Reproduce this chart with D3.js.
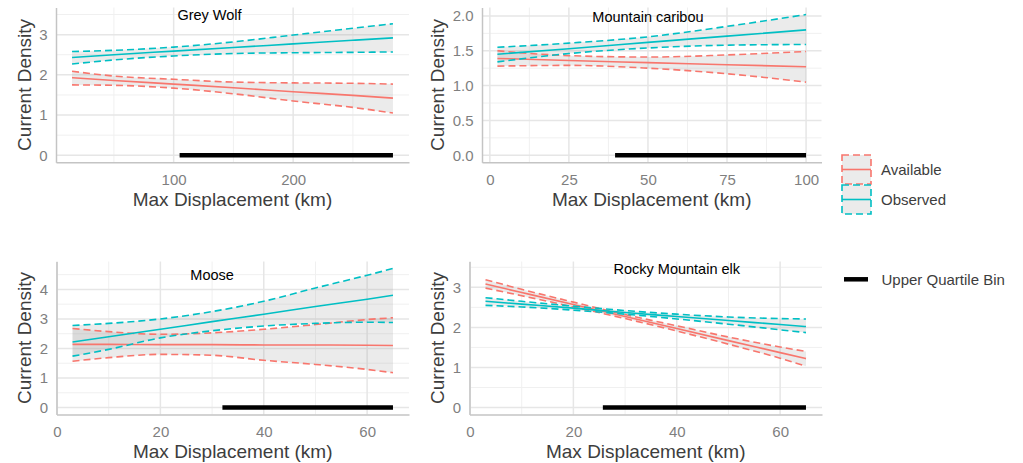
<!DOCTYPE html>
<html>
<head>
<meta charset="utf-8">
<script src="https://cdn.jsdelivr.net/npm/d3@7"></script>
<style>
  body { margin: 0; background: #fff; }
  text { font-family: "Liberation Sans", Arial, sans-serif; }
</style>
</head>
<body>
<div id="chart"></div>
<script>
const species = ["Grey Wolf", "Mountain caribou", "Moose", "Rocky Mountain elk"];

// points along max displacement (km), one row per species
const displacement = [
  [15, 50, 100, 150, 200, 250, 283.5],
  [2.4, 25, 50, 75, 100],
  [3, 10, 20, 30, 40, 50, 60, 65],
  [3, 10, 20, 30, 40, 50, 60, 65]
];

// Available fit + interval
const availMid = [
  [1.93, 1.86, 1.77, 1.68, 1.58, 1.49, 1.42],
  [1.39, 1.36, 1.33, 1.30, 1.27],
  [2.14, 2.14, 2.13, 2.13, 2.12, 2.12, 2.11, 2.10],
  [3.08, 2.87, 2.57, 2.27, 1.97, 1.67, 1.37, 1.22]
];
const availHi = [
  [2.09, 1.97, 1.89, 1.82, 1.80, 1.79, 1.77],
  [1.50, 1.43, 1.41, 1.44, 1.49],
  [2.68, 2.57, 2.48, 2.53, 2.65, 2.81, 2.98, 3.04],
  [3.19, 2.95, 2.63, 2.32, 2.04, 1.76, 1.51, 1.40]
];
const availLo = [
  [1.75, 1.74, 1.67, 1.53, 1.35, 1.19, 1.05],
  [1.28, 1.29, 1.25, 1.17, 1.05],
  [1.57, 1.69, 1.80, 1.77, 1.60, 1.46, 1.29, 1.18],
  [2.98, 2.79, 2.51, 2.22, 1.91, 1.58, 1.23, 1.03]
];

// Observed fit + interval
const obsMid = [
  [2.43, 2.50, 2.59, 2.68, 2.77, 2.86, 2.92],
  [1.45, 1.53, 1.62, 1.71, 1.80],
  [2.22, 2.40, 2.65, 2.91, 3.16, 3.42, 3.67, 3.80],
  [2.65, 2.58, 2.48, 2.37, 2.27, 2.17, 2.07, 2.02]
];
const obsHi = [
  [2.58, 2.61, 2.69, 2.82, 2.99, 3.16, 3.27],
  [1.55, 1.61, 1.70, 1.85, 2.02],
  [2.78, 2.85, 3.00, 3.25, 3.60, 4.05, 4.48, 4.71],
  [2.74, 2.65, 2.53, 2.42, 2.33, 2.26, 2.22, 2.21]
];
const obsLo = [
  [2.27, 2.37, 2.47, 2.53, 2.55, 2.56, 2.57],
  [1.34, 1.46, 1.54, 1.58, 1.59],
  [1.74, 1.97, 2.36, 2.60, 2.76, 2.85, 2.89, 2.88],
  [2.55, 2.51, 2.43, 2.33, 2.21, 2.08, 1.94, 1.87]
];

// upper quartile bin (drawn at density 0)
const uqStart = [105, 39.6, 32, 25.7];
const uqEnd = [283.5, 100, 65, 65];

// species label position (data units)
const titleX = [130, 50, 30, 40];
const titleY = [3.5, 1.98, 4.5, 3.47];

const xTickStep = [100, 25, 20, 20];
const yTickStep = [1, 0.5, 1, 1];
const yTickFormat = ["d", ".1f", "d", "d"];

const groups = ["Available", "Observed"];
const groupColors = ["#F8766D", "#00BFC4"];

// plot areas
const panels = [
  {left: 56, right: 409, top: 7.5, bottom: 162.3, col: 0},
  {left: 482, right: 821.5, top: 7.5, bottom: 162.3, col: 413},
  {left: 56.5, right: 409, top: 261.5, bottom: 414.5, col: 0},
  {left: 469.5, right: 822, top: 261.5, bottom: 414.5, col: 413}
];

let svg = d3.select("#chart").append("svg")
    .attr("width", 1023)
    .attr("height", 463)
    .style("background", "#fff");

function expand(lo, hi) {
    let pad = (hi - lo) * 0.05;
    return [lo - pad, hi + pad];
}

function breaks(domain, step) {
    let out = [];
    for (let v = Math.ceil(domain[0] / step) * step; v <= domain[1] + 1e-9; v += step) out.push(+v.toFixed(6));
    return out;
}

species.forEach(function (name, i) {
    let p = panels[i];
    let xs = displacement[i];

    let x = d3.scaleLinear()
        .domain(expand(d3.min(xs), d3.max(xs)))
        .range([p.left, p.right]);

    let yMax = d3.max([d3.max(availHi[i]), d3.max(obsHi[i]), titleY[i]]);
    let y = d3.scaleLinear()
        .domain(expand(0, yMax))
        .range([p.bottom, p.top]);

    let g = svg.append("g").attr("class", "panel");

    // grid
    let xMajor = breaks(x.domain(), xTickStep[i]);
    let yMajor = breaks(y.domain(), yTickStep[i]);
    let xMinor = breaks(x.domain(), xTickStep[i] / 2).filter(v => !xMajor.includes(v));
    let yMinor = breaks(y.domain(), yTickStep[i] / 2).filter(v => !yMajor.includes(v));

    let grid = g.append("g");
    grid.selectAll("line.xminor").data(xMinor).enter().append("line")
        .attr("x1", d => x(d)).attr("x2", d => x(d))
        .attr("y1", p.top).attr("y2", p.bottom)
        .attr("stroke", "#f0f0f0").attr("stroke-width", 1);
    grid.selectAll("line.yminor").data(yMinor).enter().append("line")
        .attr("x1", p.left).attr("x2", p.right)
        .attr("y1", d => y(d)).attr("y2", d => y(d))
        .attr("stroke", "#f0f0f0").attr("stroke-width", 1);
    grid.selectAll("line.xmajor").data(xMajor).enter().append("line")
        .attr("x1", d => x(d)).attr("x2", d => x(d))
        .attr("y1", p.top).attr("y2", p.bottom)
        .attr("stroke", "#e6e6e6").attr("stroke-width", 1.5);
    grid.selectAll("line.ymajor").data(yMajor).enter().append("line")
        .attr("x1", p.left).attr("x2", p.right)
        .attr("y1", d => y(d)).attr("y2", d => y(d))
        .attr("stroke", "#e6e6e6").attr("stroke-width", 1.5);

    // axes
    let xAxis = g.append("g")
        .attr("transform", "translate(0," + p.bottom + ")")
        .call(d3.axisBottom(x).tickValues(xMajor).tickSize(0).tickSizeOuter(0).tickPadding(12));
    let yAxis = g.append("g")
        .attr("transform", "translate(" + p.left + ",0)")
        .call(d3.axisLeft(y).tickValues(yMajor).tickFormat(d3.format(yTickFormat[i])).tickSize(0).tickSizeOuter(0).tickPadding(8.5));
    [xAxis, yAxis].forEach(function (a) {
        a.select(".domain").attr("stroke", "#c4c4c4").attr("stroke-width", 1.5);
        a.selectAll("text").attr("fill", "#7f7f7f").style("font-size", "15px")
            .style("font-family", "'Liberation Sans', Arial, sans-serif");
    });

    // ribbons
    let rows = [
        xs.map((d, k) => ({x: d, mid: availMid[i][k], lo: availLo[i][k], hi: availHi[i][k]})),
        xs.map((d, k) => ({x: d, mid: obsMid[i][k], lo: obsLo[i][k], hi: obsHi[i][k]}))
    ];
    let area = d3.area()
        .x(d => x(d.x)).y0(d => y(d.lo)).y1(d => y(d.hi))
        .curve(d3.curveMonotoneX);
    rows.forEach(function (r) {
        g.append("path").attr("d", area(r))
            .attr("fill", "#999999").attr("fill-opacity", 0.2);
    });

    // lines
    rows.forEach(function (r, k) {
        ["hi", "lo", "mid"].forEach(function (key) {
            let line = d3.line().x(d => x(d.x)).y(d => y(d[key])).curve(d3.curveMonotoneX);
            g.append("path").attr("d", line(r))
                .attr("fill", "none")
                .attr("stroke", groupColors[k])
                .attr("stroke-width", 1.6)
                .attr("stroke-dasharray", key === "mid" ? null : "7,4");
        });
    });

    // upper quartile bin
    g.append("line")
        .attr("x1", x(uqStart[i])).attr("x2", x(uqEnd[i]))
        .attr("y1", y(0)).attr("y2", y(0))
        .attr("stroke", "#000").attr("stroke-width", 4.5);

    // species label
    g.append("text")
        .attr("x", x(titleX[i])).attr("y", y(titleY[i]))
        .attr("dy", "0.35em")
        .attr("text-anchor", "middle")
        .style("font-size", "14.5px")
        .attr("fill", "#000")
        .text(name);

    // axis titles
    g.append("text")
        .attr("x", (p.left + p.right) / 2).attr("y", p.bottom + 37)
        .attr("dy", "0.35em")
        .attr("text-anchor", "middle")
        .style("font-size", "19px")
        .attr("fill", "#3d3d3d")
        .text("Max Displacement (km)");
    g.append("text")
        .attr("transform", "translate(" + (p.col + 24) + "," + ((p.top + p.bottom) / 2) + ") rotate(-90)")
        .attr("dy", "0.35em")
        .attr("text-anchor", "middle")
        .style("font-size", "19px")
        .attr("fill", "#3d3d3d")
        .text("Current Density");
});

// legend
let legend = svg.append("g").attr("class", "legend");
let keyW = 29, keyH = 29, keyX = 842, keyY = 155;

groups.forEach(function (label, k) {
    let ky = keyY + k * (keyH + 1);
    legend.append("rect")
        .attr("x", keyX).attr("y", ky)
        .attr("width", keyW).attr("height", keyH)
        .attr("fill", "#999999").attr("fill-opacity", 0.2)
        .attr("stroke", groupColors[k])
        .attr("stroke-width", 1.6)
        .attr("stroke-dasharray", "7,4");
    legend.append("line")
        .attr("x1", keyX).attr("x2", keyX + keyW)
        .attr("y1", ky + keyH / 2).attr("y2", ky + keyH / 2)
        .attr("stroke", groupColors[k]).attr("stroke-width", 1.6);
    legend.append("text")
        .attr("x", 881).attr("y", ky + keyH / 2)
        .attr("dy", "0.35em")
        .style("font-size", "15px")
        .attr("fill", "#3d3d3d")
        .text(label);
});

legend.append("line")
    .attr("x1", 844).attr("x2", 868)
    .attr("y1", 279.3).attr("y2", 279.3)
    .attr("stroke", "#000").attr("stroke-width", 4.5);
legend.append("text")
    .attr("x", 881.5).attr("y", 279.3)
    .attr("dy", "0.35em")
    .style("font-size", "15px")
    .attr("fill", "#3d3d3d")
    .text("Upper Quartile Bin");
</script>
</body>
</html>
